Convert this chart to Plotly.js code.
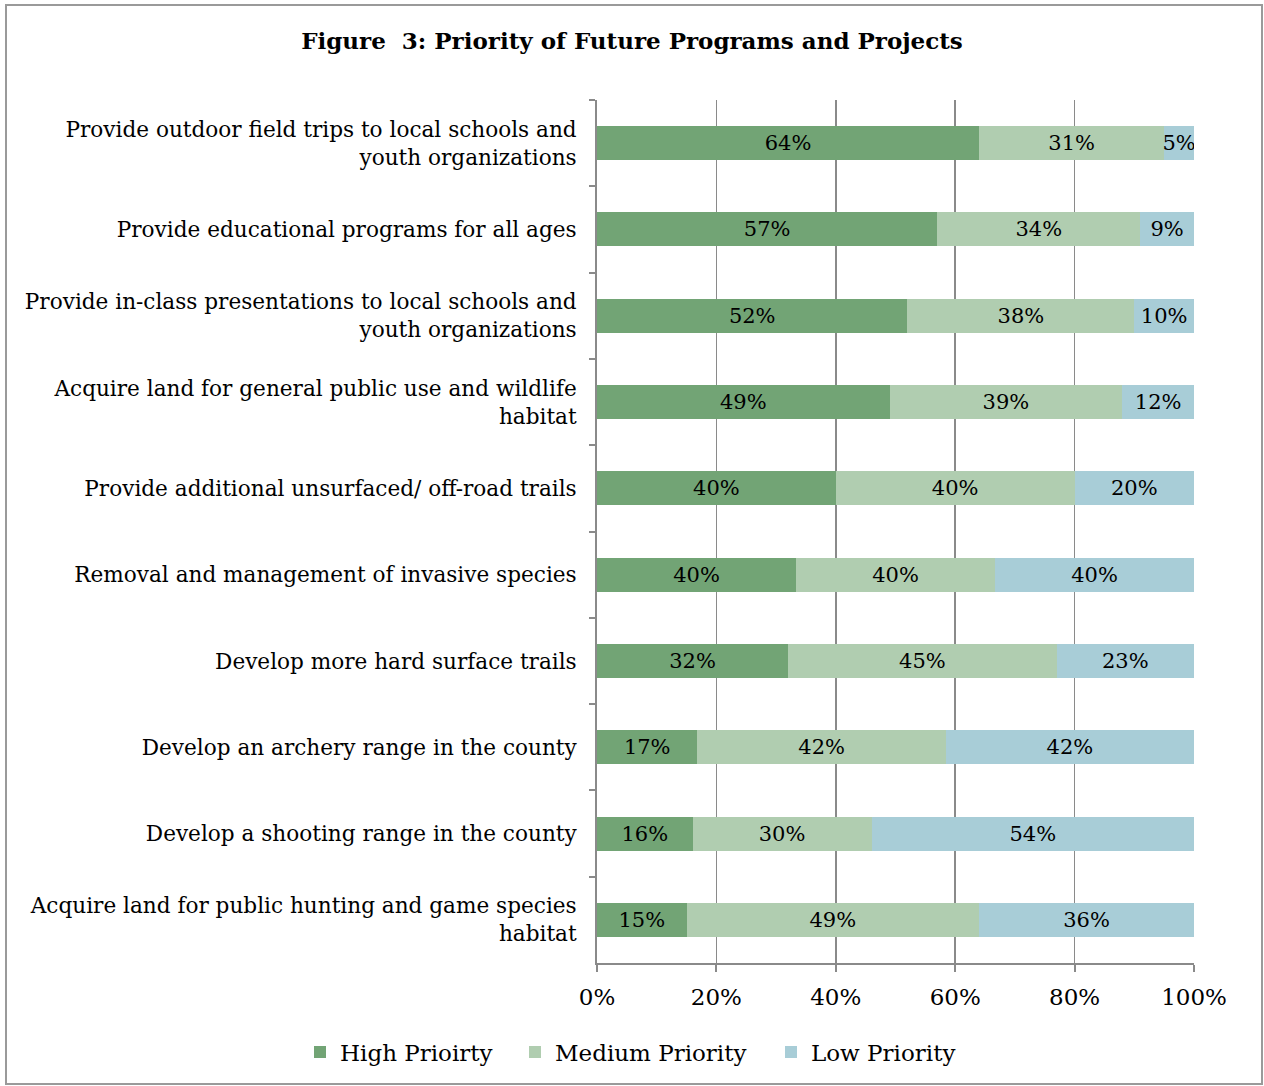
<!DOCTYPE html>
<html>
<head>
<meta charset="utf-8">
<script src="https://cdn.plot.ly/plotly-3.0.1.min.js"></script>
<style>
html,body{margin:0;padding:0;background:#fff;}
#wrap{position:relative;width:1264px;height:1086px;}
#chart{position:absolute;left:0;top:0;width:1264px;height:1086px;}
#frame{position:absolute;left:5px;top:4px;width:1254px;height:1077px;border:2px solid #9a9a9a;pointer-events:none;}
</style>
</head>
<body>
<div id="wrap"><div id="chart"></div><div id="frame"></div></div>
<script>
const categories = [
  "Provide outdoor field trips to local schools and<br>youth organizations",
  "Provide educational programs for all ages",
  "Provide in-class presentations to local schools and<br>youth organizations",
  "Acquire land for general public use and wildlife<br>habitat",
  "Provide additional unsurfaced/ off-road trails",
  "Removal and management of invasive species",
  "Develop more hard surface trails",
  "Develop an archery range in the county",
  "Develop a shooting range in the county",
  "Acquire land for public hunting and game species<br>habitat"
];
const highPriority   = [64, 57, 52, 49, 40, 40, 32, 17, 16, 15];
const mediumPriority = [31, 34, 38, 39, 40, 40, 45, 42, 30, 49];
const lowPriority    = [5, 9, 10, 12, 20, 40, 23, 42, 54, 36];
const seriesNames = ["High Prioirty", "Medium Priority", "Low Priority"];
const tickVals = [0, 20, 40, 60, 80, 100];
const tickText = ["0%", "20%", "40%", "60%", "80%", "100%"];

const colors = ["rgb(114,164,117)", "rgb(176,205,176)", "rgb(168,205,215)"];
const FONT = "DejaVu Serif, Liberation Serif, serif";
const legendIds = ["legend", "legend2", "legend3"];
const legendLeftPx = [300, 515, 771];

function mk(vals, name, color, leg) {
  return {
    type: "bar", orientation: "h",
    y: categories, x: vals, name: name,
    legend: leg,
    marker: {color: color, line: {width: 0}},
    text: vals.map(v => v + "%"),
    texttemplate: "%{text}",
    textposition: "inside",
    insidetextanchor: "middle",
    textangle: 0,
    textfont: {family: FONT, size: 21, color: "#000"},
    constraintext: "none",
    hoverinfo: "skip"
  };
}

const data = [
  mk(highPriority, seriesNames[0], colors[0], legendIds[0]),
  mk(mediumPriority, seriesNames[1], colors[1], legendIds[1]),
  mk(lowPriority, seriesNames[2], colors[2], legendIds[2])
];

const layout = {
  width: 1264, height: 1086,
  margin: {l: 597, r: 70, t: 100, b: 123},
  paper_bgcolor: "#fff", plot_bgcolor: "#fff",
  barmode: "stack", barnorm: "percent",
  bargap: 0.606,
  uniformtext: {mode: "show", minsize: 21},
  font: {family: FONT, color: "#000"},
  title: {
    text: "<b>Figure  3: Priority of Future Programs and Projects</b>",
    font: {family: FONT, size: 23, color: "#000"},
    x: 0.5, xref: "container", xanchor: "center",
    y: 1 - 41/1086, yref: "container", yanchor: "middle"
  },
  xaxis: {
    range: [0, 100],
    tickvals: tickVals, ticktext: tickText,
    showgrid: true, gridcolor: "#8a8a8a", gridwidth: 1.5,
    zeroline: false,
    showline: true, linecolor: "#8a8a8a", linewidth: 2,
    ticks: "outside", ticklen: 7, tickcolor: "#8a8a8a", tickwidth: 2,
    ticklabelstandoff: 5,
    tickfont: {family: FONT, size: 23, color: "#000"},
    fixedrange: true
  },
  yaxis: {
    type: "category",
    categoryorder: "array", categoryarray: categories,
    autorange: "reversed",
    showline: true, linecolor: "#8a8a8a", linewidth: 2,
    ticks: "outside", tickson: "boundaries", ticklen: 6, tickcolor: "#8a8a8a", tickwidth: 2,
    ticklabelstandoff: 14,
    showgrid: false, zeroline: false,
    tickfont: {family: FONT, size: 21.6, color: "#000"},
    fixedrange: true
  },
  showlegend: true
};

legendIds.forEach((id, i) => {
  layout[id] = {
    orientation: "h",
    x: (legendLeftPx[i] - 597) / 597, xref: "paper", xanchor: "left",
    y: (963 - 1052) / 863, yref: "paper", yanchor: "middle",
    font: {family: FONT, size: 23, color: "#000"},
    itemwidth: 30, tracegroupgap: 0,
    bgcolor: "rgba(0,0,0,0)"
  };
});

Plotly.newPlot("chart", data, layout, {displayModeBar: false, staticPlot: true});
</script>
</body>
</html>
